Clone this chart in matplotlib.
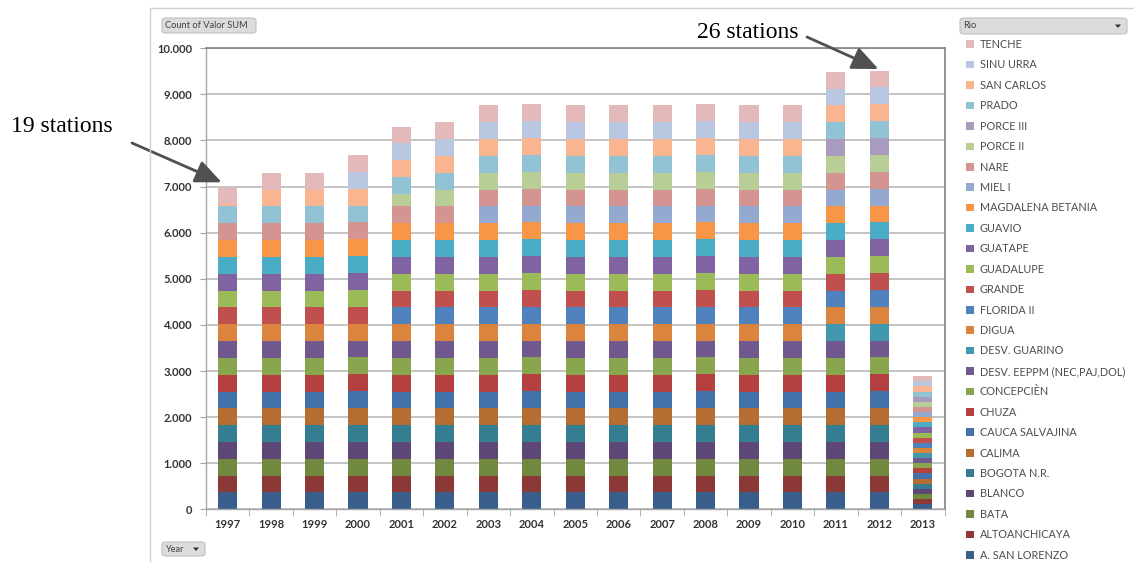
import matplotlib
matplotlib.use("Agg")
import matplotlib.pyplot as plt
from matplotlib.patches import FancyBboxPatch, Rectangle, Polygon
import numpy as np

# ---- data: daily record counts per station and year ----
years = ["1997", "1998", "1999", "2000", "2001", "2002", "2003", "2004", "2005",
         "2006", "2007", "2008", "2009", "2010", "2011", "2012", "2013"]

san_lorenzo   = [365, 365, 365, 366, 365, 365, 365, 366, 365, 365, 365, 366, 365, 365, 365, 366, 111]
altoanchicaya = [365, 365, 365, 366, 365, 365, 365, 366, 365, 365, 365, 366, 365, 365, 365, 366, 111]
bata          = [365, 365, 365, 366, 365, 365, 365, 366, 365, 365, 365, 366, 365, 365, 365, 366, 111]
blanco        = [365, 365, 365, 366, 365, 365, 365, 366, 365, 365, 365, 366, 365, 365, 365, 366, 111]
bogota        = [365, 365, 365, 366, 365, 365, 365, 366, 365, 365, 365, 366, 365, 365, 365, 366, 111]
calima        = [365, 365, 365, 366, 365, 365, 365, 366, 365, 365, 365, 366, 365, 365, 365, 366, 111]
cauca         = [365, 365, 365, 366, 365, 365, 365, 366, 365, 365, 365, 366, 365, 365, 365, 366, 111]
chuza         = [365, 365, 365, 366, 365, 365, 365, 366, 365, 365, 365, 366, 365, 365, 365, 366, 111]
concepcion    = [365, 365, 365, 366, 365, 365, 365, 366, 365, 365, 365, 366, 365, 365, 365, 366, 111]
desv_eeppm    = [365, 365, 365, 366, 365, 365, 365, 366, 365, 365, 365, 366, 365, 365, 365, 366, 111]
desv_guarino  = [0, 0, 0, 0, 0, 0, 0, 0, 0, 0, 0, 0, 0, 0, 365, 366, 111]
digua         = [365, 365, 365, 366, 365, 365, 365, 366, 365, 365, 365, 366, 365, 365, 365, 366, 111]
florida       = [0, 0, 0, 0, 365, 365, 365, 366, 365, 365, 365, 366, 365, 365, 365, 366, 111]
grande        = [365, 365, 365, 366, 365, 365, 365, 366, 365, 365, 365, 366, 365, 365, 365, 366, 111]
guadalupe     = [365, 365, 365, 366, 365, 365, 365, 366, 365, 365, 365, 366, 365, 365, 365, 366, 111]
guatape       = [365, 365, 365, 366, 365, 365, 365, 366, 365, 365, 365, 366, 365, 365, 365, 366, 111]
guavio        = [365, 365, 365, 366, 365, 365, 365, 366, 365, 365, 365, 366, 365, 365, 365, 366, 111]
magdalena     = [365, 365, 365, 366, 365, 365, 365, 366, 365, 365, 365, 366, 365, 365, 365, 366, 111]
miel          = [0, 0, 0, 0, 0, 0, 365, 366, 365, 365, 365, 366, 365, 365, 365, 366, 111]
nare          = [365, 365, 365, 366, 365, 365, 365, 366, 365, 365, 365, 366, 365, 365, 365, 366, 111]
porce_ii      = [0, 0, 0, 0, 270, 365, 365, 366, 365, 365, 365, 366, 365, 365, 365, 366, 111]
porce_iii     = [0, 0, 0, 0, 0, 0, 0, 0, 0, 0, 0, 0, 0, 0, 365, 366, 111]
prado         = [365, 365, 365, 366, 365, 365, 365, 366, 365, 365, 365, 366, 365, 365, 365, 366, 111]
san_carlos    = [45, 365, 365, 366, 365, 365, 365, 366, 365, 365, 365, 366, 365, 365, 365, 366, 111]
sinu_urra     = [0, 0, 0, 366, 365, 365, 365, 366, 365, 365, 365, 366, 365, 365, 365, 366, 111]
tenche        = [365, 365, 365, 366, 365, 365, 365, 366, 365, 365, 365, 366, 365, 365, 365, 366, 111]

stations = ["A. SAN LORENZO", "ALTOANCHICAYA", "BATA", "BLANCO", "BOGOTA N.R.", "CALIMA",
            "CAUCA SALVAJINA", "CHUZA", "CONCEPCIÈN", "DESV. EEPPM (NEC,PAJ,DOL)",
            "DESV. GUARINO", "DIGUA", "FLORIDA II", "GRANDE", "GUADALUPE", "GUATAPE",
            "GUAVIO", "MAGDALENA BETANIA", "MIEL I", "NARE", "PORCE II", "PORCE III",
            "PRADO", "SAN CARLOS", "SINU URRA", "TENCHE"]
series = [san_lorenzo, altoanchicaya, bata, blanco, bogota, calima, cauca, chuza,
          concepcion, desv_eeppm, desv_guarino, digua, florida, grande, guadalupe,
          guatape, guavio, magdalena, miel, nare, porce_ii, porce_iii, prado,
          san_carlos, sinu_urra, tenche]

colors = ["#3A5E8C", "#8C3836", "#71893F", "#5C4776", "#357D91", "#B66D31",
          "#4372AA", "#B4413F", "#89A54E", "#71588F", "#4198AF", "#DB843D",
          "#4F81BD", "#C0504D", "#9BBB59", "#8064A2", "#4BACC6", "#F79646",
          "#93A9CF", "#D49492", "#B9CD96", "#A99BBD", "#92C3D4", "#F9B590",
          "#BAC7E1", "#E4B9B9"]

W, H = 1134, 562
fig = plt.figure(figsize=(W / 100, H / 100), dpi=100)
fig.patch.set_facecolor("white")

def fx(px):
    return px / W

def fy(py):
    return 1 - py / H

# chart-area frame
fig.patches.append(Rectangle((fx(150), fy(575)), fx(1000), fy(8) - fy(575),
                             transform=fig.transFigure, fill=False,
                             edgecolor="#d0d0d0", lw=1.0))

ax = fig.add_axes([fx(206), fy(509.3), fx(944.5) - fx(206), fy(48.3) - fy(509.3)])

x = np.arange(len(years))
bottom = np.zeros(len(years))
handles = []
for name, vals, col in zip(stations, series, colors):
    vals = np.array(vals, dtype=float)
    b = ax.bar(x, vals, bottom=bottom, width=0.44, color=col, linewidth=0, label=name)
    handles.append(b)
    bottom += vals

ax.set_xlim(-0.5, len(years) - 0.5)
ax.set_ylim(0, 10000)
yt = np.arange(0, 10001, 1000)
ax.set_yticks(yt)
ax.set_yticklabels([f"{int(v):,}".replace(",", ".") for v in yt])
ax.set_xticks(x)
ax.set_xticklabels(years)
ax.set_xticks(np.arange(-0.5, len(years), 1.0), minor=True)

ax.yaxis.grid(True, color="#bfbfbf", lw=1.3)
ax.set_axisbelow(True)
for side in ["left", "bottom"]:
    ax.spines[side].set_color("#a6a6a6")
    ax.spines[side].set_linewidth(1.0)
for side in ["top", "right"]:
    ax.spines[side].set_color("#808080")
    ax.spines[side].set_linewidth(1.2)

ax.tick_params(axis="y", length=4, color="#a6a6a6", pad=6,
               labelsize=8, labelcolor="#333333")
ax.tick_params(axis="x", which="major", length=0, pad=7,
               labelsize=8, labelcolor="#333333")
ax.tick_params(axis="x", which="minor", length=5, color="#a6a6a6")
for lab in ax.get_xticklabels() + ax.get_yticklabels():
    lab.set_fontfamily("Lato")
    lab.set_fontweight("bold")

# legend (top entry = last series)
leg = fig.legend(handles[::-1], stations[::-1], loc="upper left",
                 bbox_to_anchor=(fx(966), fy(39)), bbox_transform=fig.transFigure,
                 frameon=False, borderpad=0, borderaxespad=0,
                 handlelength=0.7, handleheight=0.7, handletextpad=0.55,
                 labelspacing=0.87, prop={"family": "Lato", "size": 7.8})
for t in leg.get_texts():
    t.set_color("#4d4d4d")

# pivot field buttons
def button(x0, y0, x1, y1, label, arrow=False, size=6.7):
    fig.patches.append(FancyBboxPatch((fx(x0), fy(y1)), fx(x1) - fx(x0), fy(y0) - fy(y1),
                                      boxstyle="round,pad=0,rounding_size=0.004",
                                      transform=fig.transFigure,
                                      facecolor="#dcdcdc", edgecolor="#c0c0c0", lw=0.8))
    fig.text(fx(x0 + 3), fy((y0 + y1) / 2), label, fontsize=size, color="#404040",
             family="Lato", va="center", ha="left")
    if arrow:
        cx, cy = x1 - 9, (y0 + y1) / 2
        fig.patches.append(Polygon([(fx(cx - 3), fy(cy - 1.5)), (fx(cx + 3), fy(cy - 1.5)),
                                    (fx(cx), fy(cy + 2))], closed=True,
                                   transform=fig.transFigure, facecolor="#333333",
                                   edgecolor="none"))

button(162, 18, 256, 33, "Count of Valor SUM")
button(960, 18, 1127, 34, "Rio", arrow=True)
button(162, 542, 205, 556, "Year", arrow=True)

# annotations
fig.text(fx(62), fy(127), "19 stations", family="Liberation Serif", fontsize=17,
         ha="center", va="center", color="black")
fig.text(fx(748), fy(32), "26 stations", family="Liberation Serif", fontsize=17,
         ha="center", va="center", color="black")
arrow_kw = dict(arrowstyle="-|>,head_length=0.8,head_width=0.35", color="#505050",
                lw=2, mutation_scale=20, shrinkA=0, shrinkB=0)
ax.annotate("", xy=(-0.14, 7093), xycoords="data",
            xytext=(fx(132), fy(143)), textcoords="figure fraction", arrowprops=arrow_kw)
ax.annotate("", xy=(14.98, 9550), xycoords="data",
            xytext=(fx(807), fy(37)), textcoords="figure fraction", arrowprops=arrow_kw,
            annotation_clip=False)

fig.savefig("out.png", dpi=100)
